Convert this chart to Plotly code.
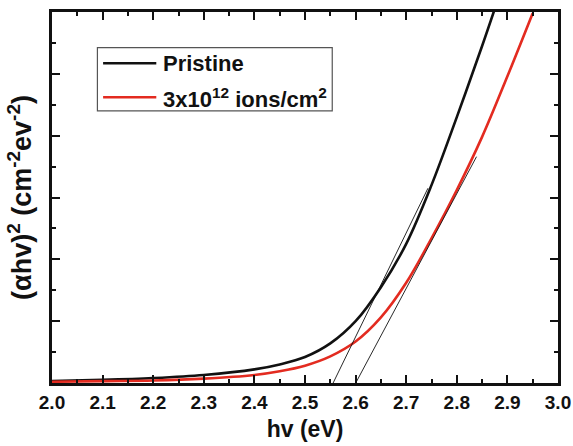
import plotly.graph_objects as go

# ---- data ----
energy_pristine = [2.00, 2.10, 2.20, 2.30, 2.40, 2.45, 2.50, 2.55, 2.60, 2.65, 2.70, 2.75, 2.80, 2.85, 2.875]
alpha_pristine = [0.03, 0.05, 0.08, 0.13, 0.22, 0.30, 0.42, 0.64, 1.00, 1.55, 2.25, 3.20, 4.30, 5.45, 6.05]

energy_irr = [2.00, 2.10, 2.20, 2.30, 2.40, 2.45, 2.50, 2.55, 2.60, 2.65, 2.70, 2.75, 2.80, 2.85, 2.90, 2.95]
alpha_irr = [0.02, 0.03, 0.04, 0.07, 0.13, 0.19, 0.28, 0.43, 0.67, 1.06, 1.62, 2.34, 3.12, 3.98, 4.96, 5.98]

tangent_pristine_x = [2.552, 2.743]
tangent_pristine_y = [-0.06, 3.15]
tangent_irr_x = [2.595, 2.839]
tangent_irr_y = [-0.08, 3.66]

legend_labels = ["Pristine", "3x10<sup>12</sup> ions/cm<sup>2</sup>"]
x_title = "hv (eV)"
y_title = "(\u03b1hv)<sup>2</sup> (cm<sup>-2</sup>ev<sup>-2</sup>)"

BLACK = "#111111"
RED = "#e32b20"
FONT = "Liberation Sans, Arial, sans-serif"

fig = go.Figure()
fig.add_trace(go.Scatter(x=energy_pristine, y=alpha_pristine, mode="lines",
                         line=dict(color=BLACK, width=2.6, shape="spline", smoothing=1.0),
                         name=legend_labels[0], showlegend=False))
fig.add_trace(go.Scatter(x=energy_irr, y=alpha_irr, mode="lines",
                         line=dict(color=RED, width=2.6, shape="spline", smoothing=1.0),
                         name=legend_labels[1], showlegend=False))
fig.add_trace(go.Scatter(x=tangent_pristine_x, y=tangent_pristine_y, mode="lines",
                         line=dict(color=BLACK, width=0.9), showlegend=False, hoverinfo="skip"))
fig.add_trace(go.Scatter(x=tangent_irr_x, y=tangent_irr_y, mode="lines",
                         line=dict(color=BLACK, width=0.9), showlegend=False, hoverinfo="skip"))

# ---- custom legend box (paper coords) ----
L, R, T, B = 51.5, 558.5, 12.0, 383.3
def px(x):
    return (x - L) / (R - L)
def py(y):
    return (B - y) / (B - T)

fig.add_shape(type="rect", xref="paper", yref="paper",
              x0=px(97), x1=px(332.3), y0=py(111), y1=py(47.7),
              line=dict(color="#555555", width=1.2), fillcolor="white", layer="above")
for i, (col, yy) in enumerate([(BLACK, 63.3), (RED, 97.3)]):
    fig.add_shape(type="line", xref="paper", yref="paper",
                  x0=px(102.7), x1=px(156), y0=py(yy), y1=py(yy),
                  line=dict(color=col, width=2.6), layer="above")
    fig.add_annotation(xref="paper", yref="paper", x=px(161), y=py(yy + 0.5),
                       text="<b>" + legend_labels[i] + "</b>", showarrow=False,
                       xanchor="left", yanchor="middle",
                       font=dict(family=FONT, size=22, color="#111111"))

axis_common = dict(showline=True, linecolor=BLACK, linewidth=3, mirror="ticks",
                   ticks="inside", tickcolor=BLACK, tickwidth=2, ticklen=8,
                   showgrid=False, zeroline=False, automargin=False)

fig.update_xaxes(range=[2.0, 3.0], dtick=0.1, tick0=2.0, tickformat=".1f",
                 tickfont=dict(family=FONT, size=19, color="#111111", weight="bold"),
                 minor=dict(ticks="inside", dtick=0.05, ticklen=4, tickwidth=2, tickcolor=BLACK),
                 title=dict(text="<b>" + x_title + "</b>", standoff=10,
                            font=dict(family=FONT, size=23, color="#111111")),
                 **axis_common)
fig.update_yaxes(range=[0, 6], dtick=1, showticklabels=False,
                 minor=dict(ticks="inside", dtick=0.5, ticklen=4, tickwidth=2, tickcolor=BLACK),
                 title=dict(text="<b>" + y_title + "</b>", standoff=10,
                            font=dict(family=FONT, size=27, color="#111111")),
                 **axis_common)

fig.update_layout(width=573, height=446,
                  margin=dict(l=52, r=15, t=12, b=63, pad=0),
                  paper_bgcolor="white", plot_bgcolor="white",
                  showlegend=False)

fig.write_html("out.html", config={"displayModeBar": False},
               post_script="document.body.style.margin='0';document.body.style.padding='0';")
